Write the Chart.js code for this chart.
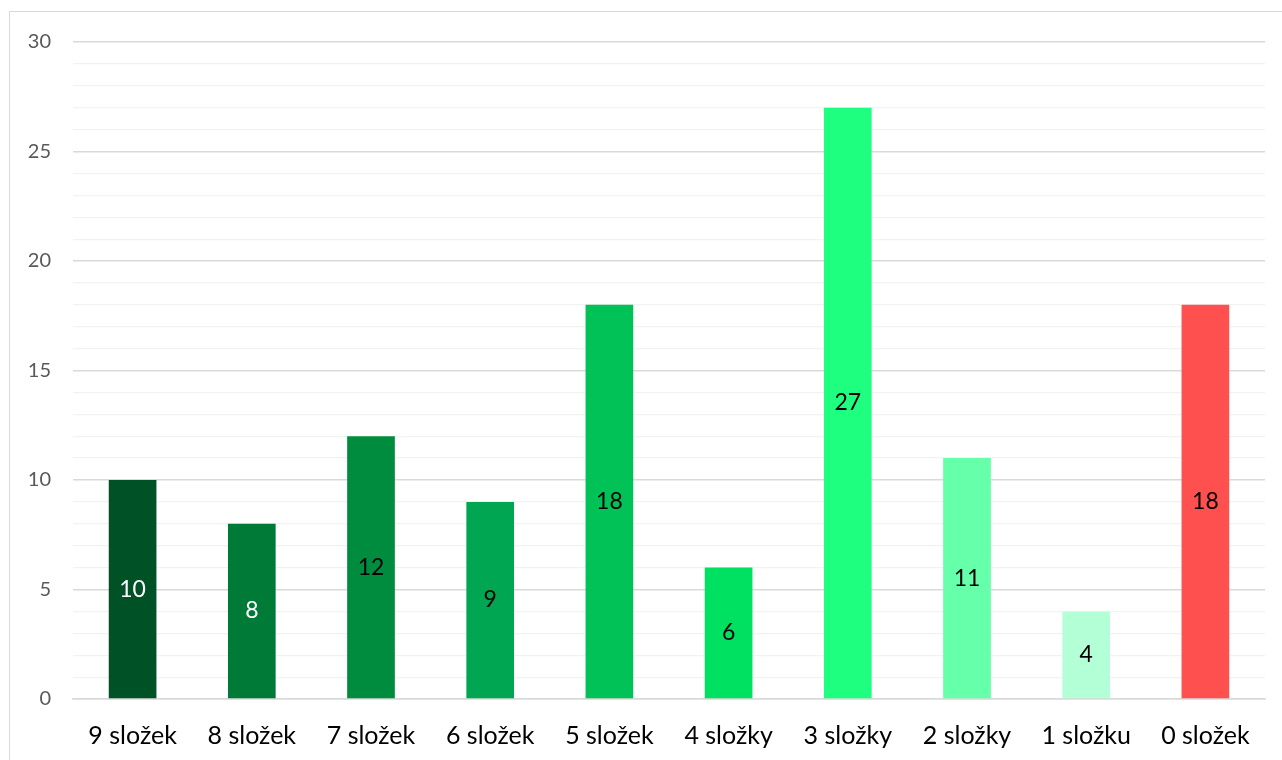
<!DOCTYPE html>
<html>
<head>
<meta charset="utf-8">
<script src="https://cdn.jsdelivr.net/npm/chart.js@4"></script>
<style>
  html, body { margin: 0; padding: 0; background: #fff; }
  #wrap { position: relative; width: 1282px; height: 760px; overflow: hidden; }
  #frame { position: absolute; left: 9px; top: 11px; width: 1300px; height: 800px; border: 1px solid #D9D9D9; box-sizing: border-box; }
  canvas { position: absolute; left: 0; top: 0; }
</style>
</head>
<body>
<div id="wrap">
  <div id="frame"></div>
  <canvas id="chart" width="1282" height="760"></canvas>
</div>
<script>
const categories = ['9 složek', '8 složek', '7 složek', '6 složek', '5 složek', '4 složky', '3 složky', '2 složky', '1 složku', '0 složek'];
const counts = [10, 8, 12, 9, 18, 6, 27, 11, 4, 18];
const barColors = ['#005226', '#007A37', '#008C3E', '#00A651', '#00C257', '#00E061', '#1EFF80', '#66FFAA', '#B3FFD6', '#FF5050'];
const labelColors = ['#FFFFFF', '#FFFFFF', '#000000', '#000000', '#000000', '#000000', '#000000', '#000000', '#000000', '#000000'];

const fontFamily = 'Lato, "Open Sans", "Noto Sans", sans-serif';

// draws the value in the middle of each bar
const barLabels = {
    id: 'barLabels',
    afterDatasetsDraw(chart) {
        const ctx = chart.ctx;
        const meta = chart.getDatasetMeta(0);
        ctx.save();
        ctx.font = '23px ' + fontFamily;
        ctx.textAlign = 'center';
        ctx.textBaseline = 'middle';
        meta.data.forEach(function(bar, i) {
            const mid = (bar.y + bar.base) / 2;
            ctx.fillStyle = labelColors[i];
            ctx.fillText(String(counts[i]), bar.x, mid);
        });
        ctx.restore();
    }
};

const ctx = document.getElementById('chart');
new Chart(ctx, {
    type: 'bar',
    data: {
        labels: categories,
        datasets: [{
            data: counts,
            backgroundColor: barColors,
            barPercentage: 0.4,
            categoryPercentage: 1.0
        }]
    },
    options: {
        responsive: false,
        animation: false,
        layout: { padding: { left: 0, right: 17, top: 42, bottom: 0 } },
        plugins: {
            legend: { display: false },
            tooltip: { enabled: false }
        },
        scales: {
            x: {
                grid: { display: false, drawTicks: false },
                border: { display: true, color: '#D9D9D9', width: 1.5 },
                ticks: {
                    color: '#000000',
                    font: { family: fontFamily, size: 25 },
                    padding: 22,
                    maxRotation: 0
                },
                afterFit(scale) { scale.height = 61; }
            },
            y: {
                min: 0,
                max: 30,
                grid: {
                    drawTicks: false,
                    color(c) { return c.tick.value % 5 === 0 ? '#D9D9D9' : '#F2F2F2'; },
                    lineWidth(c) { return c.tick.value % 5 === 0 ? 1.5 : 1.2; }
                },
                border: { display: false },
                ticks: {
                    stepSize: 1,
                    autoSkip: false,
                    color: '#595959',
                    font: { family: fontFamily, size: 20 },
                    padding: 22,
                    callback(v) { return v % 5 === 0 ? v : ''; }
                },
                afterFit(scale) { scale.width = 73; }
            }
        }
    },
    plugins: [barLabels]
});
</script>
</body>
</html>
